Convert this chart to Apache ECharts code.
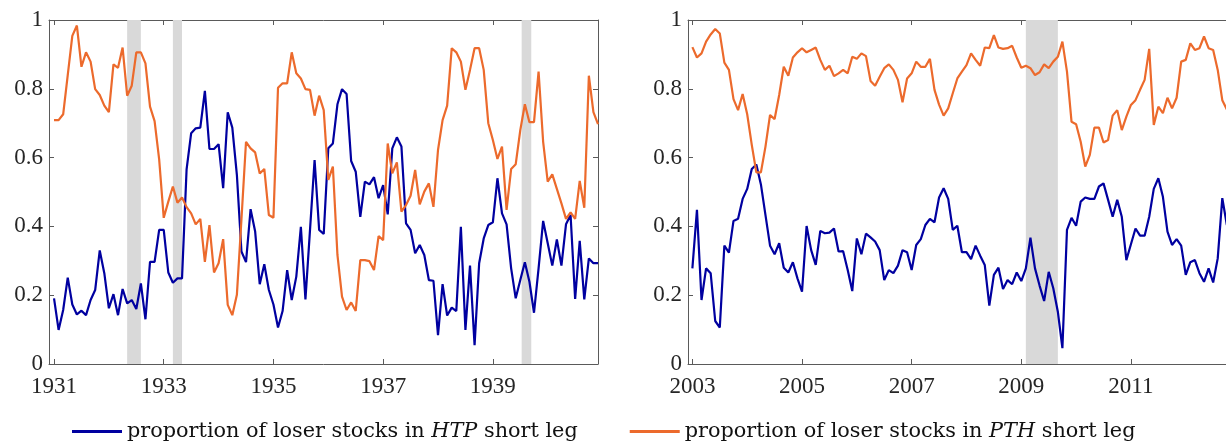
<!DOCTYPE html>
<html><head><meta charset="utf-8">
<script src="https://cdn.jsdelivr.net/npm/echarts@6/dist/echarts.min.js"></script>
<style>html,body{margin:0;padding:0;background:#fff;overflow:hidden;width:1226px;height:444px}#c{width:1250px;height:444px}</style>
</head><body><div id="c"></div>
<script>
// ---- data ----
const startLeft = 1931;   // first month: Jan 1931
const startRight = 2003;  // first month: Jan 2003
const htpLeft = [0.191,0.099,0.157,0.251,0.173,0.144,0.155,0.142,0.186,0.215,
0.330,0.264,0.162,0.203,0.142,0.218,0.176,0.186,0.160,0.234,
0.130,0.297,0.297,0.390,0.390,0.266,0.236,0.249,0.249,0.566,
0.671,0.685,0.687,0.794,0.625,0.625,0.639,0.511,0.732,0.687,
0.550,0.327,0.296,0.450,0.385,0.232,0.290,0.215,0.173,0.106,
0.154,0.273,0.186,0.254,0.399,0.188,0.390,0.593,0.390,0.378,
0.627,0.641,0.755,0.799,0.785,0.590,0.559,0.428,0.530,0.522,
0.543,0.482,0.520,0.435,0.627,0.659,0.632,0.409,0.390,0.322,
0.346,0.317,0.244,0.242,0.084,0.232,0.141,0.164,0.154,0.399,
0.099,0.286,0.055,0.293,0.365,0.404,0.412,0.540,0.438,0.406,
0.278,0.191,0.244,0.296,0.239,0.149,0.278,0.416,0.351,0.286,
0.362,0.286,0.406,0.433,0.189,0.358,0.188,0.307,0.293,0.293];
const pthLeft = [0.709,0.709,0.726,0.840,0.954,0.984,0.864,0.906,0.879,0.799,
0.782,0.751,0.732,0.871,0.861,0.920,0.780,0.809,0.906,0.906,
0.874,0.748,0.706,0.595,0.425,0.472,0.516,0.469,0.484,0.456,
0.438,0.406,0.422,0.297,0.404,0.266,0.293,0.363,0.172,0.142,
0.201,0.420,0.646,0.627,0.615,0.554,0.567,0.433,0.425,0.803,
0.816,0.816,0.906,0.845,0.830,0.799,0.797,0.722,0.780,0.738,
0.535,0.574,0.317,0.196,0.157,0.179,0.154,0.302,0.302,0.299,
0.273,0.372,0.360,0.641,0.554,0.586,0.443,0.462,0.489,0.564,
0.464,0.501,0.525,0.457,0.622,0.709,0.751,0.918,0.906,0.879,
0.797,0.855,0.918,0.918,0.855,0.700,0.651,0.596,0.632,0.448,
0.567,0.581,0.680,0.755,0.703,0.703,0.850,0.646,0.530,0.551,
0.509,0.467,0.422,0.441,0.422,0.532,0.454,0.838,0.732,0.697];
const htpRight = [0.278,0.448,0.186,0.278,0.264,0.125,0.106,0.344,0.324,0.416,
0.422,0.480,0.509,0.567,0.580,0.522,0.433,0.344,0.319,0.351,
0.280,0.266,0.296,0.249,0.210,0.401,0.331,0.288,0.387,0.380,
0.382,0.394,0.327,0.328,0.273,0.212,0.365,0.319,0.379,0.368,
0.356,0.331,0.244,0.273,0.264,0.286,0.331,0.325,0.273,0.346,
0.363,0.404,0.422,0.412,0.484,0.511,0.480,0.390,0.402,0.325,
0.325,0.305,0.344,0.315,0.288,0.170,0.259,0.280,0.218,0.244,
0.232,0.266,0.241,0.278,0.367,0.278,0.228,0.183,0.268,0.220,
0.152,0.046,0.390,0.425,0.402,0.472,0.484,0.480,0.480,0.516,
0.525,0.477,0.428,0.477,0.428,0.302,0.348,0.394,0.373,0.373,
0.428,0.509,0.540,0.486,0.385,0.346,0.363,0.344,0.259,0.296,
0.302,0.264,0.239,0.278,0.237,0.307,0.482,0.404];
const pthRight = [0.921,0.891,0.903,0.937,0.958,0.974,0.961,0.876,0.855,0.770,
0.738,0.785,0.726,0.637,0.557,0.557,0.632,0.724,0.712,0.782,
0.864,0.838,0.891,0.906,0.918,0.906,0.913,0.920,0.884,0.855,
0.867,0.837,0.845,0.855,0.845,0.893,0.887,0.903,0.895,0.823,
0.809,0.835,0.860,0.871,0.855,0.826,0.761,0.830,0.845,0.879,
0.864,0.864,0.887,0.797,0.754,0.722,0.743,0.787,0.830,0.850,
0.869,0.903,0.884,0.867,0.920,0.918,0.956,0.920,0.916,0.918,
0.925,0.891,0.861,0.867,0.860,0.840,0.848,0.871,0.860,0.879,
0.893,0.937,0.850,0.704,0.697,0.646,0.574,0.608,0.687,0.687,
0.644,0.651,0.722,0.738,0.680,0.719,0.753,0.767,0.797,0.826,
0.916,0.695,0.748,0.729,0.774,0.743,0.774,0.879,0.884,0.932,
0.913,0.918,0.952,0.918,0.913,0.855,0.767,0.740];
const ticksLeft = [1931,1933,1935,1937,1939];
const ticksRight = [2003,2005,2007,2009,2011];
const yTicks = [0,0.2,0.4,0.6,0.8,1];
// shaded periods (decimal years)
const bandsLeft = [[1932.333,1932.583],[1933.167,1933.333],[1939.525,1939.70]];
const bandsRight = [[2009.083,2009.667]];
const nameHTP = 'proportion of loser stocks in HTP short leg';
const namePTH = 'proportion of loser stocks in PTH short leg';

// ---- build ----
const toPairs = (start, arr) => arr.map((v, i) => [start + i / 12, v]);
const BLUE = '#0000a0', ORANGE = '#ec6a2c', AX = '#5a5a5a', TXT = '#262626';
const FONT = 'Liberation Serif';
const LFONT = 'DejaVu Serif';

function xAx(grid, min, max, ticks, pos, labels) {
  return {
    type: 'value', gridIndex: grid, min, max, position: pos,
    axisLine: { show: true, onZero: false, lineStyle: { color: AX, width: 1 } },
    axisTick: { show: true, inside: true, length: 5, customValues: ticks, lineStyle: { color: AX } },
    axisLabel: { show: labels, customValues: ticks, margin: 11, color: TXT, fontFamily: FONT, fontSize: 23,
      formatter: v => String(Math.round(v)) },
    splitLine: { show: false }
  };
}
function yAx(grid, pos, labels) {
  return {
    type: 'value', gridIndex: grid, min: 0, max: 1, position: pos,
    axisLine: { show: true, onZero: false, lineStyle: { color: AX, width: 1 } },
    axisTick: { show: true, inside: true, length: 5, customValues: yTicks, lineStyle: { color: AX } },
    axisLabel: { show: labels, customValues: yTicks, margin: 6, color: TXT, fontFamily: FONT, fontSize: 23 },
    splitLine: { show: false }
  };
}
const lMin = startLeft - 1.1 / 12, lMax = startLeft + 119 / 12;
const rMin = startRight - 0.96 / 12, rMax = startRight + 119 / 12;

function lineS(name, data, color, xi, yi) {
  return { type: 'line', name, data, xAxisIndex: xi, yAxisIndex: yi, showSymbol: false, symbol: 'none',
    z: 3, animation: false, lineStyle: { color, width: 2.2 }, itemStyle: { color } };
}
function bandS(bands, xi, yi) {
  return { type: 'line', data: [], xAxisIndex: xi, yAxisIndex: yi, z: 1, silent: true, animation: false,
    markArea: { silent: true, itemStyle: { color: '#d9d9d9' },
      data: bands.map(b => [{ xAxis: b[0], yAxis: 0 }, { xAxis: b[1], yAxis: 1 }]) } };
}
const legendFmt = n => n.replace(/(HTP|PTH)/, '{i|$1}');

const option = {
  animation: false,
  grid: [
    { left: 49, top: 20, width: 549, height: 344 },
    { left: 688, top: 20, width: 548, height: 344 }
  ],
  xAxis: [
    xAx(0, lMin, lMax, ticksLeft, 'bottom', true),
    xAx(0, lMin, lMax, ticksLeft, 'top', false),
    xAx(1, rMin, rMax, ticksRight, 'bottom', true),
    xAx(1, rMin, rMax, ticksRight, 'top', false)
  ],
  yAxis: [
    yAx(0, 'left', true), yAx(0, 'right', false),
    yAx(1, 'left', true), yAx(1, 'right', false)
  ],
  legend: {
    left: 72, top: 421, padding: 0, icon: 'rect', itemWidth: 50, itemHeight: 3, itemGap: 52,
    data: [nameHTP, namePTH], formatter: legendFmt,
    textStyle: { color: '#111', fontFamily: LFONT, fontSize: 20.8,
      rich: { i: { fontStyle: 'italic', fontFamily: LFONT, fontSize: 20.8, color: '#111' } } }
  },
  series: [
    bandS(bandsLeft, 0, 0),
    lineS(nameHTP, toPairs(startLeft, htpLeft), BLUE, 0, 0),
    lineS(namePTH, toPairs(startLeft, pthLeft), ORANGE, 0, 0),
    bandS(bandsRight, 2, 2),
    lineS(nameHTP, toPairs(startRight, htpRight), BLUE, 2, 2),
    lineS(namePTH, toPairs(startRight, pthRight), ORANGE, 2, 2)
  ]
};
const chart = echarts.init(document.getElementById('c'), null, { renderer: 'canvas' });
chart.setOption(option);
</script></body></html>
